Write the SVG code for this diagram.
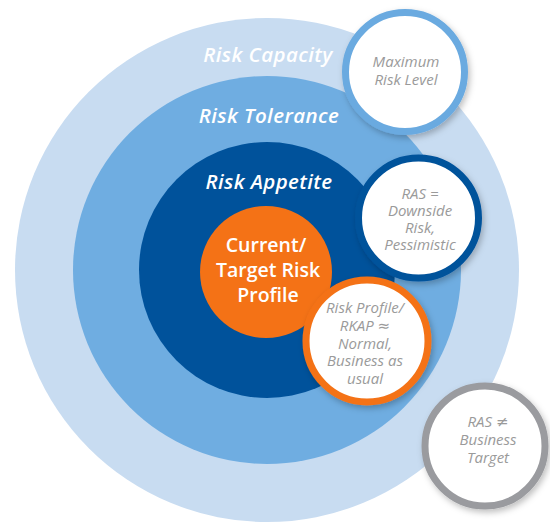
<svg xmlns="http://www.w3.org/2000/svg" width="550" height="522" viewBox="0 0 550 522">
<defs>
<filter id="sh" x="-20%" y="-20%" width="150%" height="150%">
<feDropShadow dx="2" dy="3" stdDeviation="3" flood-color="#000" flood-opacity="0.25"/>
</filter>
</defs>
<style>
.lbl{font-family:"Open Sans","Noto Sans","Liberation Sans",sans-serif;font-weight:600;font-style:italic;font-size:20.5px;letter-spacing:0.4px;fill:#fff;text-anchor:middle}
.core{font-family:"Open Sans","Noto Sans","Liberation Sans",sans-serif;font-weight:600;font-size:19.5px;fill:#fff;text-anchor:middle}
.sat{font-family:"Open Sans","Noto Sans","DejaVu Sans",sans-serif;font-style:italic;font-size:15px;fill:#9a9a9a;text-anchor:middle}
.sym{font-family:"DejaVu Sans",sans-serif;font-style:normal}
.bub{fill:#fff;stroke-width:7;filter:url(#sh)}
</style>
<rect width="550" height="522" fill="#fff"/>
<g id="risk-capacity">
<circle cx="267" cy="270" r="252" fill="#c8dcf1"/>
<text class="lbl" x="268" y="62">Risk Capacity</text>
</g>
<g id="risk-tolerance">
<circle cx="267" cy="270" r="194" fill="#6fade1"/>
<text class="lbl" x="269" y="123">Risk Tolerance</text>
</g>
<g id="risk-appetite">
<circle cx="267" cy="270" r="128" fill="#00529b"/>
<text class="lbl" x="269" y="189">Risk Appetite</text>
</g>
<g id="current-target-risk-profile">
<circle cx="266" cy="272" r="66" fill="#f47216"/>
<text class="core" x="266" y="252">Current/</text>
<text class="core" x="268" y="277">Target Risk</text>
<text class="core" x="268" y="302">Profile</text>
</g>
<g id="maximum-risk-level">
<circle class="bub" cx="405" cy="72" r="59.5" stroke="#6aaae0"/>
<text class="sat" x="406" y="67">Maximum</text>
<text class="sat" x="406" y="85">Risk Level</text>
</g>
<g id="ras-downside">
<circle class="bub" cx="418.5" cy="218" r="60" stroke="#00529b"/>
<text class="sat" x="420" y="199">RAS =</text>
<text class="sat" x="420" y="216">Downside</text>
<text class="sat" x="420" y="233">Risk,</text>
<text class="sat" x="420" y="250">Pessimistic</text>
</g>
<g id="risk-profile-rkap">
<circle class="bub" cx="367" cy="341" r="61" stroke="#f47216"/>
<text class="sat" x="365" y="313">Risk Profile/</text>
<text class="sat" x="365" y="331">RKAP <tspan class="sym">≈</tspan></text>
<text class="sat" x="365" y="348.5">Normal,</text>
<text class="sat" x="365" y="366">Business as</text>
<text class="sat" x="365" y="383.5">usual</text>
</g>
<g id="ras-business-target">
<circle class="bub" cx="485" cy="446" r="60" stroke="#9a9b9f"/>
<text class="sat" x="488" y="427">RAS <tspan class="sym">≠</tspan></text>
<text class="sat" x="488" y="445">Business</text>
<text class="sat" x="488" y="463">Target</text>
</g>
</svg>
